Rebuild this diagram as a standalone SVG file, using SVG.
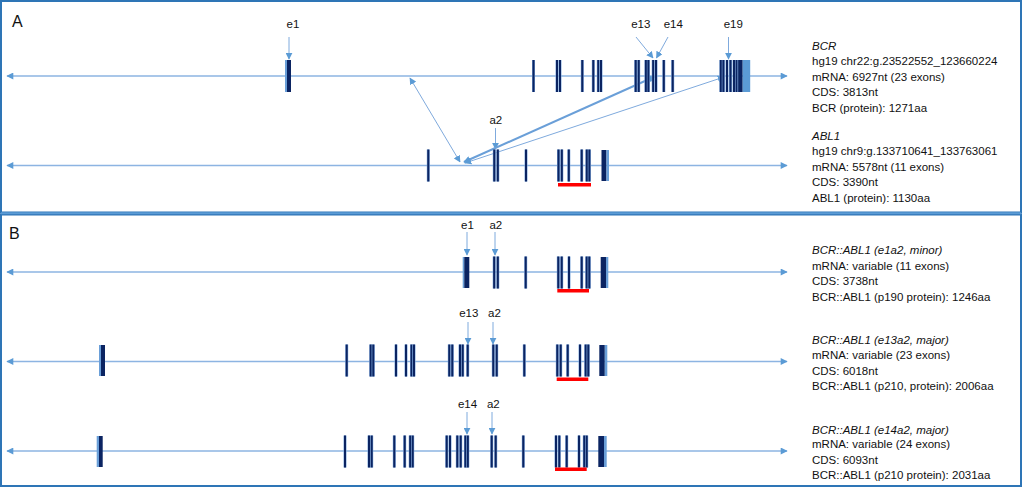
<svg xmlns="http://www.w3.org/2000/svg" xmlns:xlink="http://www.w3.org/1999/xlink" width="1024" height="488" viewBox="0 0 1024 488">
<style>
text{font-family:"Liberation Sans",Arial,sans-serif;font-size:11.5px;fill:#111}
.it{font-style:italic}
.lbl{text-anchor:middle}
.panel{font-size:16px}
.gl{stroke:#8DB4E2;stroke-width:1.4;fill:none}
.ar{stroke:#7FAADD;stroke-width:1;fill:none}
.dk{fill:#0B2462}
.lt{fill:#6A9FD8}
.red{fill:#FF0000}
</style>
<defs>
<marker id="ah" viewBox="0 0 10 10" refX="9" refY="5" markerWidth="8" markerHeight="7" markerUnits="userSpaceOnUse" orient="auto-start-reverse"><path d="M0,0 L10,5 L0,10 z" fill="#5B9BD5"/></marker>
<marker id="sh" viewBox="0 0 10 10" refX="9" refY="5" markerWidth="7" markerHeight="7" markerUnits="userSpaceOnUse" orient="auto-start-reverse"><path d="M0,0 L10,5 L0,10 z" fill="#5B9BD5"/></marker>
<g id="tb"><rect x="-1.5" y="-16" width="3" height="32" fill="#7FA7DB"/><rect x="-1" y="-16" width="2" height="32" fill="#0B2462"/></g>
</defs>

<g id="frames">
<rect x="1" y="1" width="1020" height="211.5" fill="none" stroke="#2E75B6" stroke-width="2"/>
<rect x="1" y="214.5" width="1020" height="271.5" fill="none" stroke="#2E75B6" stroke-width="2"/>
<line x1="1" y1="213.3" x2="1021" y2="213.3" stroke="#5B9BD5" stroke-width="2"/>
<text class="panel" x="12" y="27">A</text>
<text class="panel" x="9" y="238.5">B</text>
</g>

<g id="connectors">
<line class="gl" x1="7" y1="76" x2="787" y2="76" marker-start="url(#ah)" marker-end="url(#ah)"/>
<line class="gl" x1="7" y1="165.5" x2="787" y2="165.5" marker-start="url(#ah)" marker-end="url(#ah)"/>
<line class="gl" x1="7" y1="272" x2="787" y2="272" marker-start="url(#ah)" marker-end="url(#ah)"/>
<line class="gl" x1="7" y1="361.5" x2="787" y2="361.5" marker-start="url(#ah)" marker-end="url(#ah)"/>
<line class="gl" x1="7" y1="451" x2="787" y2="451" marker-start="url(#ah)" marker-end="url(#ah)"/>
<line class="ar" x1="289" y1="37" x2="289" y2="59" marker-end="url(#sh)"/>
<line class="ar" x1="636" y1="37" x2="653" y2="58" marker-end="url(#sh)"/>
<line class="ar" x1="668" y1="37" x2="656.5" y2="58" marker-end="url(#sh)"/>
<line class="ar" x1="728.5" y1="37" x2="728.5" y2="59" marker-end="url(#sh)"/>
<line class="ar" x1="495.5" y1="128" x2="495.5" y2="149" marker-end="url(#sh)"/>
<line class="ar" x1="410" y1="78" x2="460" y2="162" marker-start="url(#sh)" marker-end="url(#sh)"/>
<line x1="464" y1="162" x2="655" y2="76.5" stroke="#6A9FD8" stroke-width="2" marker-start="url(#ah)" marker-end="url(#ah)"/>
<line class="ar" x1="465" y1="163" x2="724" y2="77" marker-start="url(#sh)" marker-end="url(#sh)"/>
<line class="ar" x1="467" y1="232" x2="467" y2="255" marker-end="url(#sh)"/>
<line class="ar" x1="495" y1="232" x2="495" y2="255" marker-end="url(#sh)"/>
<line class="ar" x1="468" y1="322" x2="468" y2="344" marker-end="url(#sh)"/>
<line class="ar" x1="493" y1="322" x2="493" y2="344" marker-end="url(#sh)"/>
<line class="ar" x1="467" y1="412" x2="467" y2="434" marker-end="url(#sh)"/>
<line class="ar" x1="492" y1="412" x2="492" y2="434" marker-end="url(#sh)"/>
</g>

<g id="bcr">
<rect class="lt" x="285" y="60" width="2.2" height="32"/><rect class="dk" x="287" y="60" width="4" height="32"/>
<use href="#tb" x="533.5" y="76"/><use href="#tb" x="557" y="76"/><use href="#tb" x="560" y="76"/>
<use href="#tb" x="582.3" y="76"/><use href="#tb" x="593.3" y="76"/><use href="#tb" x="598.3" y="76"/><use href="#tb" x="601" y="76"/>
<use href="#tb" x="635.7" y="76"/><use href="#tb" x="638.7" y="76"/><use href="#tb" x="645.9" y="76"/><use href="#tb" x="648.4" y="76"/>
<use href="#tb" x="653.2" y="76"/><use href="#tb" x="656" y="76"/><use href="#tb" x="663.8" y="76"/><use href="#tb" x="672.7" y="76"/>
<use href="#tb" x="720.8" y="76"/><use href="#tb" x="723.4" y="76"/><use href="#tb" x="727" y="76"/><use href="#tb" x="730.5" y="76"/>
<use href="#tb" x="734" y="76"/><use href="#tb" x="736.6" y="76"/><use href="#tb" x="739.2" y="76"/>
<rect class="dk" x="740" y="60" width="2.7" height="32"/>
<rect fill="#5B9BD5" x="742.7" y="60" width="7.5" height="32"/>
<text class="lbl" x="293" y="28">e1</text>
<text class="lbl" x="640.8" y="28">e13</text>
<text class="lbl" x="673.3" y="28">e14</text>
<text class="lbl" x="733.3" y="28">e19</text>
</g>

<g id="abl1">
<use href="#tb" x="428.3" y="165.5"/><use href="#tb" x="494.3" y="165.5"/><use href="#tb" x="497.8" y="165.5"/>
<use href="#tb" x="526" y="165.5"/><use href="#tb" x="558.5" y="165.5"/><use href="#tb" x="561.8" y="165.5"/>
<use href="#tb" x="568.8" y="165.5"/><use href="#tb" x="581.7" y="165.5"/><use href="#tb" x="586.8" y="165.5"/><use href="#tb" x="589.4" y="165.5"/>
<rect class="dk" x="601.5" y="150" width="5" height="31"/><rect class="lt" x="606.5" y="150" width="2.5" height="31"/>
<rect class="red" x="558" y="183" width="33" height="3.5"/>
<text class="lbl" x="495.8" y="124">a2</text>
</g>

<g id="fusion-e1a2">
<rect class="lt" x="462.7" y="257" width="1.8" height="31"/><rect class="dk" x="464.3" y="257" width="5" height="31"/>
<use href="#tb" x="494.2" y="272.5"/><use href="#tb" x="497.8" y="272.5"/><use href="#tb" x="525.7" y="272.5"/>
<use href="#tb" x="558.3" y="272.5"/><use href="#tb" x="561.7" y="272.5"/><use href="#tb" x="569" y="272.5"/>
<use href="#tb" x="581.7" y="272.5"/><use href="#tb" x="586.7" y="272.5"/><use href="#tb" x="589.3" y="272.5"/>
<rect class="dk" x="600.7" y="257" width="5.3" height="31"/><rect class="lt" x="606" y="257" width="2.3" height="31"/>
<rect class="red" x="557.3" y="289" width="31.7" height="3.5"/>
<text class="lbl" x="467.5" y="229">e1</text>
<text class="lbl" x="495.8" y="229">a2</text>
</g>

<g id="fusion-e13a2">
<rect class="lt" x="99" y="345" width="2" height="31"/><rect class="dk" x="101" y="345" width="4" height="31"/>
<use href="#tb" x="346.7" y="360.5"/><use href="#tb" x="370.7" y="360.5"/><use href="#tb" x="373.3" y="360.5"/>
<use href="#tb" x="396" y="360.5"/><use href="#tb" x="406" y="360.5"/><use href="#tb" x="411.5" y="360.5"/><use href="#tb" x="414" y="360.5"/>
<use href="#tb" x="449.3" y="360.5"/><use href="#tb" x="452.3" y="360.5"/><use href="#tb" x="460" y="360.5"/><use href="#tb" x="462.7" y="360.5"/>
<use href="#tb" x="467.7" y="360.5"/>
<use href="#tb" x="493.3" y="360.5"/><use href="#tb" x="496.7" y="360.5"/><use href="#tb" x="524.3" y="360.5"/>
<use href="#tb" x="557.3" y="360.5"/><use href="#tb" x="560.7" y="360.5"/><use href="#tb" x="567.7" y="360.5"/>
<use href="#tb" x="580" y="360.5"/><use href="#tb" x="585.7" y="360.5"/><use href="#tb" x="588.3" y="360.5"/>
<rect class="dk" x="599.3" y="345" width="5.5" height="31"/><rect class="lt" x="604.8" y="345" width="2.5" height="31"/>
<rect class="red" x="556.7" y="377.5" width="31.6" height="3.5"/>
<text class="lbl" x="468.8" y="317">e13</text>
<text class="lbl" x="494.5" y="317">a2</text>
</g>

<g id="fusion-e14a2">
<rect class="lt" x="96.7" y="436" width="2.3" height="31"/><rect class="dk" x="99" y="436" width="3.7" height="31"/>
<use href="#tb" x="345" y="451.5"/><use href="#tb" x="369" y="451.5"/><use href="#tb" x="371.7" y="451.5"/>
<use href="#tb" x="394.3" y="451.5"/><use href="#tb" x="404.7" y="451.5"/><use href="#tb" x="410.2" y="451.5"/><use href="#tb" x="412.7" y="451.5"/>
<use href="#tb" x="446.7" y="451.5"/><use href="#tb" x="450" y="451.5"/><use href="#tb" x="457.3" y="451.5"/><use href="#tb" x="460.7" y="451.5"/>
<use href="#tb" x="465.4" y="451.5"/><use href="#tb" x="467.8" y="451.5"/>
<use href="#tb" x="491.7" y="451.5"/><use href="#tb" x="495.7" y="451.5"/><use href="#tb" x="523.3" y="451.5"/>
<use href="#tb" x="556" y="451.5"/><use href="#tb" x="559.3" y="451.5"/><use href="#tb" x="566.7" y="451.5"/>
<use href="#tb" x="579" y="451.5"/><use href="#tb" x="584.3" y="451.5"/><use href="#tb" x="586.7" y="451.5"/>
<rect class="dk" x="598.3" y="436" width="5.7" height="31"/><rect class="lt" x="604" y="436" width="2.7" height="31"/>
<rect class="red" x="555" y="467.5" width="31.7" height="3.5"/>
<text class="lbl" x="467.5" y="408">e14</text>
<text class="lbl" x="493.3" y="408">a2</text>
</g>

<g id="info-bcr">
<text class="it" x="812" y="49.5">BCR</text>
<text x="812" y="65">hg19 chr22:g.23522552_123660224</text>
<text x="812" y="80.5">mRNA: 6927nt (23 exons)</text>
<text x="812" y="96">CDS: 3813nt</text>
<text x="812" y="111.5">BCR (protein): 1271aa</text>
</g>
<g id="info-abl1">
<text class="it" x="812" y="139.5">ABL1</text>
<text x="812" y="155">hg19 chr9:g.133710641_133763061</text>
<text x="812" y="170.5">mRNA: 5578nt (11 exons)</text>
<text x="812" y="186">CDS: 3390nt</text>
<text x="812" y="201.5">ABL1 (protein): 1130aa</text>
</g>
<g id="info-e1a2">
<text class="it" x="812" y="254">BCR::ABL1 (e1a2, minor)</text>
<text x="812" y="269.5">mRNA: variable (11 exons)</text>
<text x="812" y="285">CDS: 3738nt</text>
<text x="812" y="300.5">BCR::ABL1 (p190 protein): 1246aa</text>
</g>
<g id="info-e13a2">
<text class="it" x="812" y="343.5">BCR::ABL1 (e13a2, major)</text>
<text x="812" y="359">mRNA: variable (23 exons)</text>
<text x="812" y="374.5">CDS: 6018nt</text>
<text x="812" y="390">BCR::ABL1 (p210, protein): 2006aa</text>
</g>
<g id="info-e14a2">
<text class="it" x="812" y="433.5">BCR::ABL1 (e14a2, major)</text>
<text x="812" y="448">mRNA: variable (24 exons)</text>
<text x="812" y="463.5">CDS: 6093nt</text>
<text x="812" y="479">BCR::ABL1 (p210 protein): 2031aa</text>
</g>
</svg>
